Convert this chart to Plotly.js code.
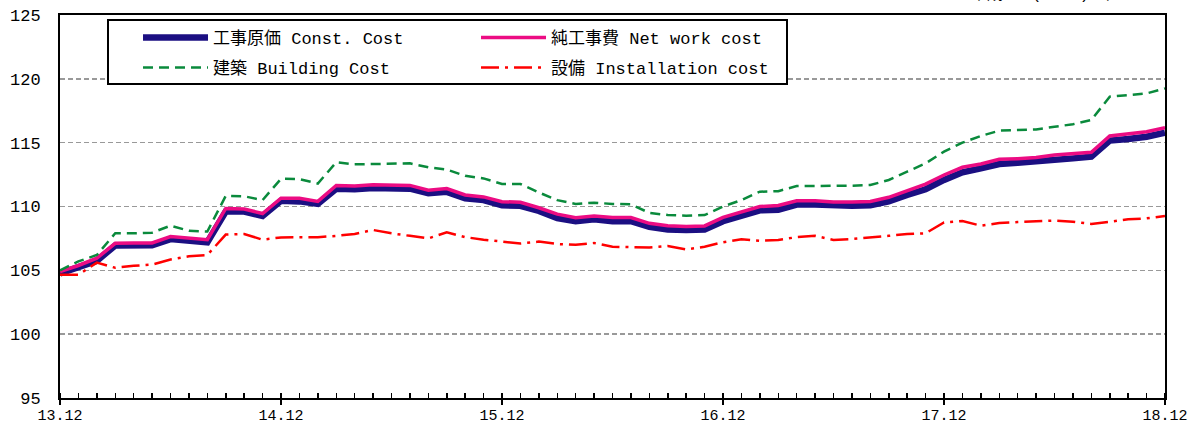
<!DOCTYPE html>
<html>
<head>
<meta charset="utf-8">
<script src="https://cdn.plot.ly/plotly-3.0.1.min.js"></script>
<style>html,body{margin:0;padding:0;background:#fff;}#chart{width:1197px;height:427px;}</style>
</head>
<body>
<div id="chart"></div>
<script>
const months = ['13.12','14.01','14.02','14.03','14.04','14.05','14.06','14.07','14.08','14.09','14.10','14.11',
  '14.12','15.01','15.02','15.03','15.04','15.05','15.06','15.07','15.08','15.09','15.10','15.11',
  '15.12','16.01','16.02','16.03','16.04','16.05','16.06','16.07','16.08','16.09','16.10','16.11',
  '16.12','17.01','17.02','17.03','17.04','17.05','17.06','17.07','17.08','17.09','17.10','17.11',
  '17.12','18.01','18.02','18.03','18.04','18.05','18.06','18.07','18.08','18.09','18.10','18.11','18.12'];

const constCost = [104.75,105.2,105.75,106.95,106.97,106.97,107.45,107.3,107.2,109.6,109.6,109.25,
  110.45,110.4,110.2,111.4,111.35,111.45,111.4,111.4,111.05,111.15,110.65,110.5,
  110.1,110.05,109.65,109.1,108.85,109.0,108.85,108.85,108.4,108.2,108.15,108.2,
  108.85,109.3,109.7,109.75,110.15,110.15,110.05,110.05,110.1,110.4,110.9,111.35,
  112.08,112.68,112.99,113.33,113.43,113.51,113.69,113.77,113.9,115.16,115.29,115.47,115.78];

const netWork = [104.9,105.38,105.95,107.12,107.15,107.15,107.65,107.5,107.4,109.85,109.8,109.45,
  110.65,110.65,110.4,111.65,111.6,111.7,111.65,111.65,111.27,111.4,110.9,110.75,
  110.38,110.33,109.9,109.4,109.12,109.25,109.13,109.13,108.68,108.5,108.43,108.48,
  109.15,109.6,110.0,110.08,110.45,110.45,110.35,110.35,110.4,110.72,111.25,111.75,
  112.47,113.07,113.33,113.7,113.75,113.83,114.03,114.11,114.24,115.52,115.68,115.86,116.17];

const building = [105.0,105.7,106.2,107.9,107.9,107.95,108.5,108.1,108.04,110.83,110.8,110.5,
  112.17,112.15,111.8,113.46,113.3,113.33,113.38,113.38,113.07,112.9,112.4,112.2,
  111.76,111.76,111.1,110.5,110.2,110.3,110.2,110.17,109.5,109.33,109.28,109.33,
  110.0,110.5,111.16,111.2,111.6,111.6,111.6,111.63,111.68,112.08,112.73,113.38,
  114.3,115.0,115.52,115.94,115.99,116.04,116.25,116.44,116.78,118.6,118.73,118.86,119.25];

const installation = [104.65,104.65,105.6,105.2,105.35,105.45,105.85,106.1,106.2,107.8,107.85,107.4,
  107.58,107.58,107.6,107.7,107.85,108.16,107.9,107.7,107.5,107.98,107.6,107.4,
  107.25,107.1,107.25,107.06,107.0,107.14,106.85,106.83,106.78,106.9,106.64,106.85,
  107.2,107.43,107.32,107.38,107.6,107.7,107.38,107.45,107.56,107.7,107.85,107.9,
  108.75,108.86,108.5,108.7,108.78,108.84,108.9,108.81,108.63,108.81,109.0,109.07,109.26];

const seriesNames = ['工事原価 Const. Cost','純工事費 Net work cost','建築 Building Cost','設備 Installation cost'];
const tickLabels = ['13.12','14.12','15.12','16.12','17.12','18.12'];
const baseNote = '平成23 (2011) 年 =100';

const xIdx = months.map((m, i) => i);
const tickPos = tickLabels.map(t => months.indexOf(t));

const FONT = 'Liberation Mono, "Noto Sans CJK JP", monospace';

const traces = [
  {x: xIdx, y: constCost, name: seriesNames[0], type: 'scatter', mode: 'lines', legend: 'legend',
   line: {color: '#1b0f82', width: 6.5}, text: months},
  {x: xIdx, y: netWork, name: seriesNames[1], type: 'scatter', mode: 'lines', legend: 'legend',
   line: {color: '#ec0c83', width: 3.5}, text: months},
  {x: xIdx, y: building, name: seriesNames[2], type: 'scatter', mode: 'lines', legend: 'legend2',
   line: {color: '#0a8a3c', width: 2.5, dash: '10px,6px'}, text: months},
  {x: xIdx, y: installation, name: seriesNames[3], type: 'scatter', mode: 'lines', legend: 'legend2',
   line: {color: '#ff0000', width: 2.5, dash: '18px,6px,3px,6px'}, text: months}
];

const legendCommon = {
  orientation: 'h', xanchor: 'left', yanchor: 'middle',
  bgcolor: 'rgba(0,0,0,0)', borderwidth: 0,
  font: {family: FONT, size: 17, color: '#000'},
  entrywidth: 258, itemwidth: 65, traceorder: 'normal'
};

const layout = {
  width: 1197, height: 427,
  margin: {l: 60, r: 32, t: 15, b: 29},
  paper_bgcolor: '#ffffff', plot_bgcolor: '#ffffff',
  font: {family: FONT, size: 15, color: '#000'},
  showlegend: true,
  legend: Object.assign({}, legendCommon, {x: 0.0706, y: 0.940}),
  legend2: Object.assign({}, legendCommon, {x: 0.0706, y: 0.862}),
  xaxis: {
    range: [0, 60], tickvals: tickPos, ticktext: tickLabels,
    showgrid: false, zeroline: false,
    showline: true, linecolor: '#000', linewidth: 2, mirror: true,
    ticks: 'outside', ticklen: 5, tickwidth: 2, tickcolor: '#000', ticklabelstandoff: -3,
    minor: {dtick: 1, ticks: 'inside', ticklen: 5, tickwidth: 1.5, tickcolor: '#000', showgrid: false},
    tickfont: {family: FONT, size: 15, color: '#000'}
  },
  yaxis: {
    range: [95, 125], dtick: 5, tick0: 95,
    showgrid: true, gridcolor: '#999999', gridwidth: 1.5, griddash: '5px,3px',
    zeroline: false, showline: true, linecolor: '#000', linewidth: 2, mirror: true,
    ticks: '', ticklabelstandoff: 14,
    tickfont: {family: FONT, size: 17, color: '#000'}
  },
  shapes: [
    {type: 'rect', xref: 'paper', yref: 'paper', layer: 'above',
     x0: (108 - 60) / 1105, x1: (787 - 60) / 1105, y0: (398 - 84) / 383, y1: (398 - 20) / 383,
     fillcolor: '#ffffff', line: {color: '#000', width: 2}}
  ],
  annotations: [
    {text: baseNote, xref: 'paper', yref: 'paper', x: 1, y: 1.0235, xanchor: 'right', yanchor: 'bottom',
     showarrow: false, font: {family: FONT, size: 16, color: '#000'}}
  ]
};

Plotly.newPlot('chart', traces, layout, {displayModeBar: false, staticPlot: true});
</script>
</body>
</html>
